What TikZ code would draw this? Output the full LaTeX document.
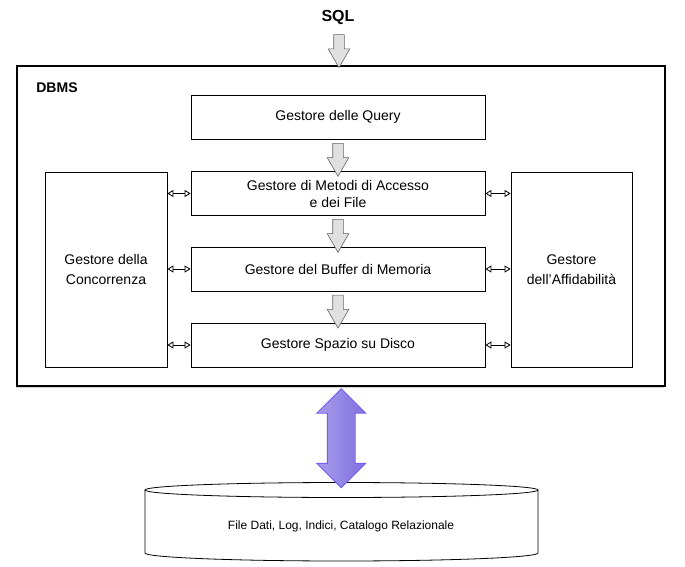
\documentclass[tikz,border=0pt]{standalone}
\usepackage{fontspec}
\setmainfont{Liberation Sans}
\usetikzlibrary{positioning,calc,shapes.arrows,arrows.meta,shadows}

\definecolor{frecciagrigia}{HTML}{E0E0E0}
\definecolor{viola}{HTML}{A89CEA}
\definecolor{violascuro}{HTML}{8070E0}
\definecolor{violabordo}{HTML}{6F5FF2}

\begin{document}
\begin{tikzpicture}[x=1pt, y=-1pt, >={Triangle[open,length=6pt,width=7pt]},
  gestore/.style={draw, line width=0.8pt, minimum width=294pt, minimum height=44pt,
    align=center, font=\fontsize{14}{17}\selectfont},
  lato/.style={draw, line width=0.8pt, minimum width=122pt, minimum height=195pt,
    align=center, font=\fontsize{14}{20}\selectfont},
  freccia/.style={single arrow, draw=black!60, fill=frecciagrigia, line width=0.6pt,
    rotate=-90, inner sep=5pt, single arrow head extend=5.5pt,
    single arrow tip angle=60, minimum height=33pt}]

\useasboundingbox (0,0) rectangle (685,567);

% contenitore DBMS
\node [draw, line width=1.1pt, fill=white, minimum width=648pt, minimum height=320pt,
  drop shadow={shadow xshift=-1.5pt, shadow yshift=-1.5pt, opacity=.35}]
  (dbms) at (341,226) {};
\node [font=\fontsize{14}{16}\selectfont\bfseries] (dbmstesto) at (57,88) {DBMS};

\node [font=\fontsize{16}{18}\selectfont\bfseries] (sql) at (338,17) {SQL};

% gestori centrali
\node [gestore] (query) at (338,117) {Gestore delle Query};
\node [gestore] (metodi) at (338,193.5) {Gestore di Metodi di Accesso\\e dei File};
\node [gestore] (buffer) at (338,269) {Gestore del Buffer di Memoria};
\node [gestore] (spazio) at (338,345) {Gestore Spazio su Disco};

% gestori laterali
\node [lato] (conc) at (106,269.5) {Gestore della\\Concorrenza};
\node [lato, minimum width=121pt] (affid) at (571.5,269.5) {Gestore\\dell’Affidabilità};

% frecce grigie
\node [freccia] (f0) at (339,46.5) {};
\node [freccia] (f1) at ($(query.south)!.5!(metodi.north)$) {};
\node [freccia] (f2) at ($(metodi.south)!.5!(buffer.north)$) {};
\node [freccia] (f3) at ($(buffer.south)!.5!(spazio.north)$) {};

% frecce doppie
\foreach \g in {metodi,buffer,spazio} {
  \draw [<->, line width=0.8pt] (conc.east |- \g) -- (\g.west);
  \draw [<->, line width=0.8pt] (\g.east) -- (affid.west |- \g);
}

% disco
\draw [line width=0.8pt, fill=white] (145,490) -- (145,553)
  arc [start angle=180, end angle=360, x radius=196.5pt, y radius=8pt]
  -- (538,490);
\draw [line width=0.8pt, fill=white] (341.5,490) ellipse [x radius=196.5pt, y radius=7.5pt];
\coordinate (discotop) at (341.5,490);
\node [font=\fontsize{12}{14}\selectfont] (disco) at (341,526)
  {File Dati, Log, Indici, Catalogo Relazionale};

% freccia viola
\node [double arrow, rotate=90, draw=violabordo, line width=0.8pt,
  left color=viola, right color=violascuro,
  inner sep=13.5pt, minimum height=99pt, double arrow head extend=10.5pt,
  double arrow tip angle=90]
  (io) at ($(dbms.south)!.5!(discotop)$) {};

\end{tikzpicture}
\end{document}
